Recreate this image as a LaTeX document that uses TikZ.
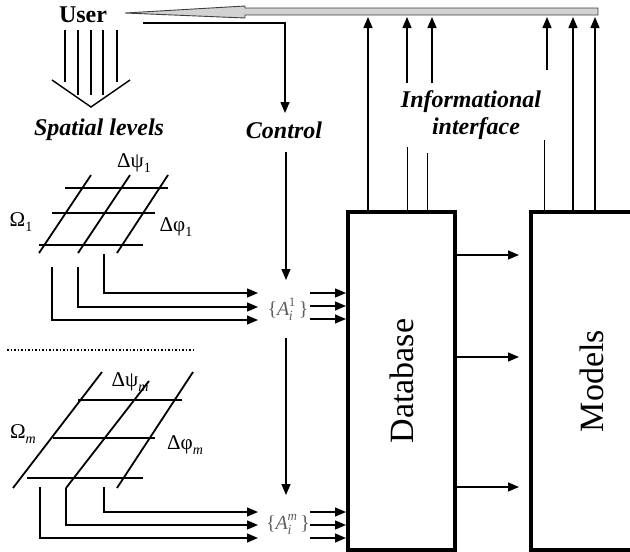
\documentclass[tikz,border=0pt]{standalone}
\usepackage{fontspec}
\setmainfont{Liberation Serif}
\usetikzlibrary{arrows.meta}
\newcommand\mysub[1]{\raisebox{-0.25em}{\fontsize{14}{14}\selectfont #1}}
\newcommand\mysup[1]{\raisebox{0.45em}{\fontsize{13}{13}\selectfont #1}}
\begin{document}
\begin{tikzpicture}[x=1pt,y=-1pt,
  ln/.style={line width=1.4pt},
  thin/.style={line width=1pt},
  arr/.style={line width=1.4pt,-{Triangle[length=11pt,width=9pt]}},
  gridline/.style={line width=1.8pt},
  lbl/.style={font=\fontsize{24}{26}\selectfont\bfseries\itshape, inner sep=0pt, align=center},
  box/.style={draw,line width=4pt,inner sep=0pt},
  big/.style={font=\fontsize{34}{36}\selectfont},
  gl/.style={font=\fontsize{21}{23}\selectfont, inner sep=0pt},
  aset/.style={font=\fontsize{20}{22}\selectfont, text=gray!75!black, inner sep=0pt}
]
\useasboundingbox (0,0) rectangle (630,552);

% boxes
\node[box, minimum width=107pt, minimum height=338pt] (db) at (401.5,381) {};
\node[big, rotate=90] (dbt) at (db.center) {Database};
\node[box, minimum width=122pt, minimum height=338pt] (mod) at (592,381) {};
\node[big, rotate=90] (modt) at (mod.center) {Models};

% labels
\node[lbl, font=\fontsize{24}{26}\selectfont\bfseries] (user) at (83,15) {User};
\node[lbl] (spatial) at (99,130) {Spatial levels};
\node[lbl] (control) at (284,130) {Control};
\node[lbl] (info1) at (471,102) {Informational};
\node[lbl] (info2) at (476,129) {interface};

% informational bar (gray arrow to user)
\filldraw[fill=gray!35, draw=gray!50!black, line width=0.9pt]
  (125,13) -- (245,6) -- (245,8) -- (598,8) -- (598,15) -- (245,15) -- (245,18) -- cycle;

% user -> control
\coordinate (u1) at (143,23);
\draw[arr] (u1) -- (285,23) -- (285,113);

% user -> spatial levels (open arrow)
\foreach \x/\e in {65/82,78/95,91/95,103/95,117/82}
  \draw[ln] (\x,30) -- (\x,\e);
\draw[ln] (52,80) -- (91,107) -- (130,80);

% upward arrows to bar
\draw[arr] (db.north -| 368,0) -- (368,17);
\draw[arr] (407,83) -- (407,17);
\draw[arr] (432,83) -- (432,17);
\draw[thin] (407,147) -- (407,210);
\draw[thin] (427,153) -- (427,210);
\draw[arr] (547,70) -- (547,17);
\draw[thin] (544,140) -- (544,210);
\draw[arr] (mod.north -| 573,0) -- (573,17);
\draw[arr] (mod.north -| 595,0) -- (595,17);

% upper grid
\draw[gridline] (65,188) -- (168,188);
\draw[gridline] (52,213) -- (155,213);
\draw[gridline] (39,245) -- (143,245);
\draw[gridline] (39,253) -- (91,175);
\draw[gridline] (78,253) -- (130,175);
\draw[gridline] (117,253) -- (168,175);
\node[gl] (dpsi1) at (134,163) {Δψ\mysub{1}};
\node[gl] (dphi1) at (176,227) {Δφ\mysub{1}};
\node[gl] (om1) at (21,222) {Ω\mysub{1}};

% dotted separator
\draw[line width=1.5pt, dotted] (7,350) -- (193,350);

% lower grid
\draw[gridline] (78,400) -- (182,400);
\draw[gridline] (53,438) -- (155,438);
\draw[gridline] (27,478) -- (143,478);
\draw[gridline] (13,488) -- (102,372);
\draw[gridline] (66,488) -- (149,381);
\draw[gridline] (117,488) -- (193,372);
\node[gl] (dpsim) at (130,382) {Δψ\mysub{\textit{m}}};
\node[gl] (dphim) at (185,445) {Δφ\mysub{\textit{m}}};
\node[gl] (omm) at (23,434) {Ω\mysub{\textit{m}}};

% sets
\node[aset] (a1) at (288,309) {\{\textit{A}\kern-0.5pt\rlap{\mysub{\textit{i}}}\mysup{1}\,\}};
\node[aset] (am) at (288,524) {\{\textit{A}\kern-0.5pt\rlap{\mysub{\textit{i}}}\mysup{\textit{m}}\,\}};

% control -> sets
\draw[arr] (286,152) -- (286,280);
\draw[arr] (286,338) -- (286,495);

% spatial level 1 -> A1
\draw[arr] (104,254) -- (104,293) -- (258,293);
\draw[arr] (78,267) -- (78,307) -- (258,307);
\draw[arr] (52,267) -- (52,320) -- (258,320);
% spatial level m -> Am
\draw[arr] (104,487) -- (104,512) -- (258,512);
\draw[arr] (66,488) -- (66,525) -- (258,525);
\draw[arr] (40,487) -- (40,538) -- (258,538);

% sets -> database
\foreach \y in {293,306,319,512,525,538}
  \draw[arr] (310,\y) -- (db.west |- 0,\y);

% database -> models
\foreach \y in {255,357,487}
  \draw[arr] (db.east |- 0,\y) -- (519,\y);
\end{tikzpicture}
\end{document}
